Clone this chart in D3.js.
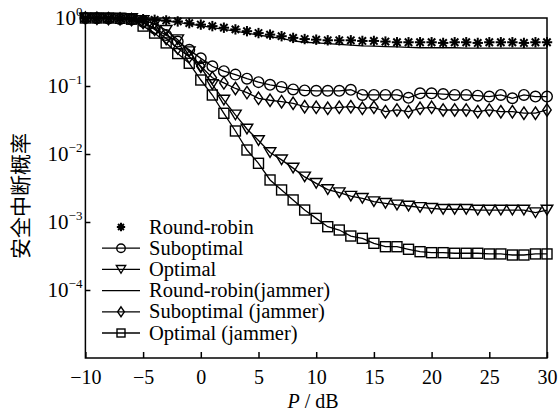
<!DOCTYPE html>
<html>
<head>
<meta charset="utf-8">
<script src="https://cdn.jsdelivr.net/npm/d3@7/dist/d3.min.js"></script>
<style>
  body { margin: 0; background: #fff; }
  svg { display: block; }
  text { font-family: "Times New Roman", "Liberation Serif", "DejaVu Serif", serif; fill: #000; }
</style>
</head>
<body>
<svg id="chart" width="559" height="413"></svg>
<script>
// P / dB
const snr = [-10, -9, -8, -7, -6, -5, -4, -3, -2, -1, 0, 1, 2, 3, 4, 5, 6, 7, 8, 9, 10,
  11, 12, 13, 14, 15, 16, 17, 18, 19, 20, 21, 22, 23, 24, 25, 26, 27, 28, 29, 30];

const roundRobin = [1.0, 1.0, 1.0, 0.99, 0.98, 0.96, 0.94, 0.92, 0.89, 0.84, 0.80, 0.76, 0.72, 0.68,
  0.64, 0.60, 0.57, 0.54, 0.51, 0.49, 0.48, 0.47, 0.47, 0.47, 0.46, 0.46, 0.45, 0.44, 0.44, 0.44,
  0.44, 0.43, 0.44, 0.44, 0.43, 0.44, 0.44, 0.44, 0.43, 0.44, 0.44];

const suboptimal = [1.0, 0.99, 0.98, 0.97, 0.95, 0.88, 0.70, 0.56, 0.45, 0.34, 0.255, 0.195, 0.165,
  0.147, 0.128, 0.114, 0.104, 0.097, 0.089, 0.086, 0.085, 0.085, 0.085, 0.088, 0.074, 0.074, 0.074,
  0.074, 0.067, 0.078, 0.078, 0.076, 0.074, 0.074, 0.072, 0.070, 0.074, 0.066, 0.074, 0.070, 0.070];

const optimal = [1.0, 1.0, 0.99, 0.99, 0.98, 0.92, 0.82, 0.66, 0.48, 0.32, 0.19, 0.105, 0.062,
  0.0375, 0.0233, 0.0158, 0.0105, 0.0082, 0.0062, 0.0046, 0.0037, 0.0030, 0.0027, 0.0024, 0.00223,
  0.00199, 0.00188, 0.00178, 0.00172, 0.00164, 0.00159, 0.00154, 0.00154, 0.00154, 0.0015, 0.0015,
  0.0015, 0.0015, 0.0015, 0.00137, 0.0015];

const roundRobinJam = [1.0, 1.0, 1.0, 0.99, 0.98, 0.96, 0.93, 0.90, 0.86, 0.81, 0.77, 0.72, 0.68,
  0.64, 0.60, 0.56, 0.53, 0.50, 0.46, 0.44, 0.43, 0.42, 0.41, 0.40, 0.39, 0.385, 0.38, 0.375, 0.37,
  0.365, 0.365, 0.365, 0.365, 0.36, 0.36, 0.36, 0.36, 0.36, 0.36, 0.36, 0.36];

const suboptimalJam = [1.0, 0.99, 0.98, 0.97, 0.95, 0.86, 0.68, 0.50, 0.36, 0.27, 0.195, 0.132,
  0.111, 0.092, 0.080, 0.066, 0.0617, 0.0588, 0.0557, 0.0496, 0.0486, 0.047, 0.0486, 0.0496, 0.047,
  0.0486, 0.0419, 0.0444, 0.0419, 0.047, 0.0486, 0.0444, 0.0444, 0.0444, 0.0419, 0.0444, 0.0419,
  0.0419, 0.0398, 0.0398, 0.0444];

const optimalJam = [1.0, 1.0, 1.0, 0.99, 0.96, 0.76, 0.60, 0.43, 0.30, 0.216, 0.1225, 0.0737,
  0.0397, 0.0218, 0.01145, 0.0073, 0.00415, 0.00296, 0.00211, 0.0015, 0.00113, 0.000853, 0.000762,
  0.000622, 0.000575, 0.000486, 0.000433, 0.000433, 0.000397, 0.000366, 0.000354, 0.000354,
  0.000347, 0.000347, 0.000347, 0.000339, 0.000339, 0.000327, 0.000327, 0.000339, 0.000339];

const xTicks = [-10, -5, 0, 5, 10, 15, 20, 25, 30];
const yTicks = [1, 1e-1, 1e-2, 1e-3, 1e-4];
const yTickExp = ['0', '\u22121', '\u22122', '\u22123', '\u22124'];

const legendNames = ['Round-robin', 'Suboptimal', 'Optimal', 'Round-robin(jammer)',
  'Suboptimal (jammer)', 'Optimal (jammer)'];

const series = [
  { name: legendNames[0], values: roundRobin, line: false, marker: 'star' },
  { name: legendNames[1], values: suboptimal, line: true, marker: 'circle' },
  { name: legendNames[2], values: optimal, line: true, marker: 'triangle' },
  { name: legendNames[3], values: roundRobinJam, line: true, marker: null },
  { name: legendNames[4], values: suboptimalJam, line: true, marker: 'diamond' },
  { name: legendNames[5], values: optimalJam, line: true, marker: 'square' },
];

const serif = '"Times New Roman", "Liberation Serif", "DejaVu Serif", serif';
const svg = d3.select('#chart');
const plot = { left: 85.4, right: 547, top: 18, bottom: 358 };

const x = d3.scaleLinear().domain([-10, 30]).range([plot.left, plot.right]);
const y = d3.scaleLog().domain([1e-5, 1]).range([plot.bottom, plot.top]);

// marker drawing, s = scale
function drawMarker(g, type, cx, cy, s) {
  const m = g.append('g').attr('transform', `translate(${cx},${cy})`)
    .attr('fill', 'none').attr('stroke', '#000').attr('stroke-width', 1.4);
  if (type === 'star') {
    const r = 5.2 * s;
    [0, 45, 90, 135].forEach(a => {
      const rad = a * Math.PI / 180;
      m.append('line')
        .attr('x1', -r * Math.cos(rad)).attr('y1', -r * Math.sin(rad))
        .attr('x2', r * Math.cos(rad)).attr('y2', r * Math.sin(rad))
        .attr('stroke-width', 2);
    });
  } else if (type === 'circle') {
    m.append('circle').attr('r', 5.3 * s);
  } else if (type === 'triangle') {
    const w = 5.8 * s, h = 4.8 * s;
    m.append('path').attr('d', `M${-w},${-h}L${w},${-h}L0,${h}Z`);
  } else if (type === 'diamond') {
    const w = 4.2 * s, h = 6.2 * s;
    m.append('path').attr('d', `M0,${-h}L${w},0L0,${h}L${-w},0Z`);
  } else if (type === 'square') {
    const a = 5 * s;
    m.append('rect').attr('x', -a).attr('y', -a).attr('width', 2 * a).attr('height', 2 * a);
  }
}

const line = d3.line()
  .x((d, i) => x(snr[i]))
  .y(d => y(d));

// curves
series.forEach(s => {
  if (s.line) {
    svg.append('path')
      .datum(s.values)
      .attr('d', line)
      .attr('fill', 'none')
      .attr('stroke', '#000')
      .attr('stroke-width', 1.3);
  }
});
series.forEach(s => {
  if (!s.marker) return;
  const g = svg.append('g');
  s.values.forEach((v, i) => drawMarker(g, s.marker, x(snr[i]), y(v), 1));
});

// frame
svg.append('rect')
  .attr('x', plot.left).attr('y', plot.top)
  .attr('width', plot.right - plot.left).attr('height', plot.bottom - plot.top)
  .attr('fill', 'none').attr('stroke', '#000').attr('stroke-width', 1.5);

// x axis
const xAxis = svg.append('g')
  .attr('transform', `translate(0,${plot.bottom})`)
  .attr('font-family', serif)
  .call(d3.axisBottom(x).tickValues(xTicks).tickSizeInner(-6).tickSizeOuter(0).tickPadding(12));
xAxis.select('.domain').remove();
xAxis.selectAll('line').attr('stroke-width', 1.5);
xAxis.selectAll('text')
  .attr('font-family', serif)
  .style('font-family', serif)
  .style('font-size', '20px');

// y axis
const yAxis = svg.append('g')
  .attr('transform', `translate(${plot.left},0)`)
  .call(d3.axisLeft(y).tickValues(yTicks).tickSizeInner(-5).tickSizeOuter(0).tickFormat(''));
yAxis.select('.domain').remove();
yAxis.selectAll('line').attr('stroke-width', 1.5);

yTicks.forEach((t, i) => {
  const txt = svg.append('text')
    .attr('x', plot.left - 3)
    .attr('y', y(t) + 7)
    .attr('text-anchor', 'end')
    .style('font-family', serif)
    .style('font-size', '21px');
  txt.append('tspan').text('10');
  txt.append('tspan').attr('dy', -9).style('font-size', '13px').text(yTickExp[i]);
});

// axis titles
const xt = svg.append('text')
  .attr('x', 313).attr('y', 408)
  .attr('text-anchor', 'middle')
  .style('font-family', serif)
  .style('font-size', '20px');
xt.append('tspan').style('font-style', 'italic').text('P');
xt.append('tspan').text(' / dB');

svg.append('text')
  .attr('transform', 'translate(28,196) rotate(-90)')
  .attr('text-anchor', 'middle')
  .style('font-family', '"Noto Sans CJK SC", sans-serif')
  .style('font-size', '21px')
  .text('安全中断概率');

// legend
const legend = svg.append('g');
series.forEach((s, i) => {
  const ly = 227 + i * 21.2;
  if (s.line) {
    legend.append('line')
      .attr('x1', 102).attr('x2', 140).attr('y1', ly).attr('y2', ly)
      .attr('stroke', '#000').attr('stroke-width', 1.3);
  }
  if (s.marker) drawMarker(legend, s.marker, 121, ly, 0.8);
  legend.append('text')
    .attr('x', 149).attr('y', ly + 6.5)
    .style('font-family', serif)
    .style('font-size', '20.5px')
    .text(s.name);
});
</script>
</body>
</html>
